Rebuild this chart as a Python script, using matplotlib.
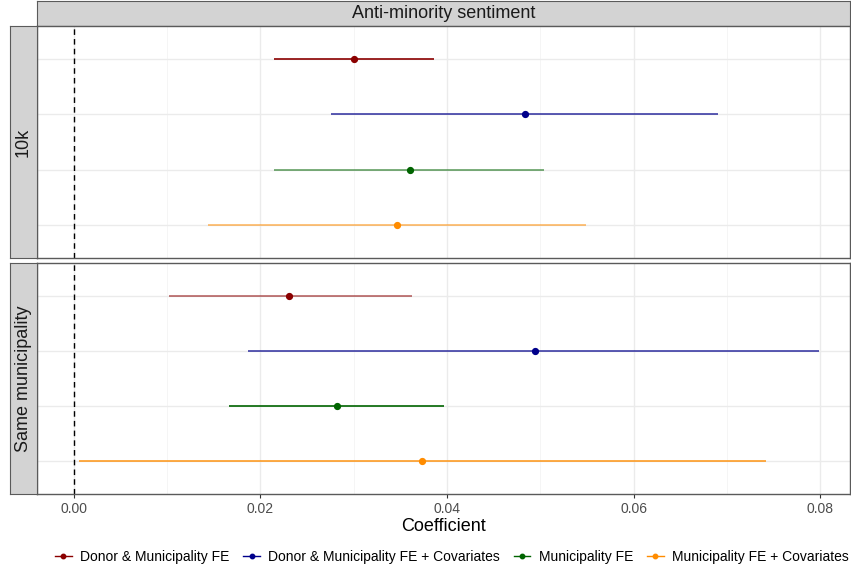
import numpy as np
import matplotlib.pyplot as plt
from matplotlib.lines import Line2D

plt.rcParams['font.family'] = ['Liberation Sans', 'DejaVu Sans']

models = ["Donor & Municipality FE", "Donor & Municipality FE + Covariates",
          "Municipality FE", "Municipality FE + Covariates"]
colors = ["#8B0000", "#00008B", "#006400", "#FF8C00"]
panels = ["10k", "Same municipality"]

# point estimates and 95% interval bounds, one row per panel
est = [[0.0300, 0.0484, 0.0360, 0.0346],
       [0.0231, 0.0494, 0.0282, 0.0373]]
lo = [[0.0215, 0.0276, 0.0215, 0.0144],
      [0.0102, 0.0187, 0.0166, 0.0005]]
hi = [[0.0386, 0.0691, 0.0504, 0.0549],
      [0.0362, 0.0799, 0.0397, 0.0742]]
line_alpha = [[1.0, 0.75, 0.6, 0.6],
              [0.6, 0.75, 1.0, 0.85]]

W, H = 851, 571
fig = plt.figure(figsize=(W / 100, H / 100), dpi=100)

def box(x0, y0, x1, y1):
    return [x0 / W, 1 - y1 / H, (x1 - x0) / W, (y1 - y0) / H]

strip_fc = "#D3D3D3"
strip_ec = "#5a5a5a"

# top strip
sax = fig.add_axes(box(37, 1, 850, 26))
sax.set_xticks([]); sax.set_yticks([])
sax.set_facecolor(strip_fc)
for s in sax.spines.values():
    s.set_color(strip_ec)
sax.text(0.5, 0.5, "Anti-minority sentiment", ha="center", va="center",
         fontsize=13, color="#1a1a1a", transform=sax.transAxes)

ypos = [4, 3, 2, 1]
panel_px = [(26, 258), (263, 494)]
for p, (y0, y1) in enumerate(panel_px):
    ax = fig.add_axes(box(37, y0, 850, y1))
    ax.set_xlim(-0.00396, 0.0832)
    ax.set_ylim(0.4, 4.6)
    ax.set_xticks([0, 0.02, 0.04, 0.06, 0.08])
    ax.set_xticks([0.01, 0.03, 0.05, 0.07], minor=True)
    ax.set_yticks(ypos)
    ax.set_yticklabels([])
    ax.tick_params(axis="y", length=0)
    ax.tick_params(axis="x", which="minor", length=0)
    ax.grid(True, which="major", color="#EBEBEB", lw=1.0)
    ax.grid(True, which="minor", axis="x", color="#F4F4F4", lw=0.6)
    ax.set_axisbelow(True)
    for s in ax.spines.values():
        s.set_color("#5a5a5a")
        s.set_linewidth(1.0)
    ax.axvline(0, color="black", ls=(0, (4, 3)), lw=1.0)
    for i in range(4):
        ax.hlines(ypos[i], lo[p][i], hi[p][i], color=colors[i],
                  alpha=line_alpha[p][i], lw=1.2)
        ax.plot(est[p][i], ypos[i], "o", color=colors[i], ms=4.2)
    if p == 0:
        ax.tick_params(axis="x", length=0, labelbottom=False)
    else:
        ax.tick_params(axis="x", which="major", length=3, color="#333333",
                       labelsize=10, labelcolor="#4d4d4d", pad=3)
        ax.set_xticklabels(["0.00", "0.02", "0.04", "0.06", "0.08"])
        ax.set_xlabel("Coefficient", fontsize=13, labelpad=1)

    # side strip
    lax = fig.add_axes(box(10, y0, 37, y1))
    lax.set_xticks([]); lax.set_yticks([])
    lax.set_facecolor(strip_fc)
    for s in lax.spines.values():
        s.set_color(strip_ec)
    lax.text(0.5, 0.5, panels[p], ha="center", va="center", rotation=90,
             fontsize=13, color="#1a1a1a", transform=lax.transAxes)

handles = [Line2D([], [], color=c, marker="o", ms=3.2, lw=1.0) for c in colors]
fig.legend(handles, models, loc="center", bbox_to_anchor=(0.531, 1 - 557 / H),
           ncol=4, frameon=False, fontsize=10, handlelength=1.2,
           handletextpad=0.6, columnspacing=1.0)

fig.savefig("out.png", dpi=100)
